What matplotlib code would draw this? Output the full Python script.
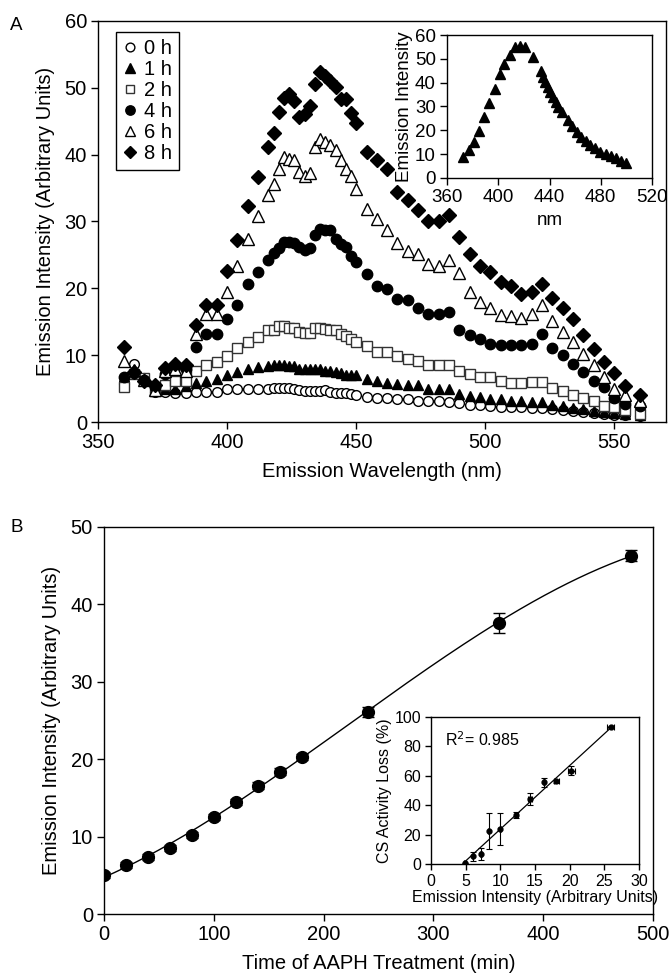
import numpy as np
import matplotlib
matplotlib.use("Agg")
import matplotlib.pyplot as plt

plt.rcParams['font.family'] = ['Liberation Sans', 'DejaVu Sans']

# ---------------- Panel A data ----------------
wavelength = ([360, 364, 368, 372, 376, 380, 384, 388, 392, 396, 400, 404, 408, 412]
              + list(range(416, 451, 2))
              + list(range(454, 555, 4)) + [560])

h0 = [6.0, 8.7, 6.6, 4.5, 4.5, 4.3, 4.3, 4.5, 4.5, 4.5, 4.9, 5.0, 5.0, 5.0,
      5.0, 5.05, 5.1, 5.15, 5.1, 5.0, 4.75, 4.65, 4.65, 4.6, 4.6, 4.75, 4.5, 4.4, 4.4, 4.4, 4.25, 4.05,
      3.8, 3.65, 3.55, 3.5, 3.4, 3.2, 3.1, 3.1, 3.0, 2.8, 2.6, 2.5, 2.4, 2.3, 2.2, 2.2, 2.1, 2.1,
      1.9, 1.8, 1.6, 1.5, 1.4, 1.2, 1.1, 1.0, 0.9]
h1 = [6.5, 7.8, 6.5, 4.7, 4.9, 4.9, 5.4, 5.9, 6.2, 6.4, 7.0, 7.5, 7.9, 8.2,
      8.4, 8.5, 8.5, 8.5, 8.4, 8.4, 8.0, 7.9, 7.9, 8.0, 7.9, 7.7, 7.7, 7.5, 7.4, 7.1, 7.1, 7.0,
      6.4, 6.1, 5.9, 5.7, 5.5, 5.5, 4.9, 4.9, 4.9, 4.2, 3.9, 3.7, 3.5, 3.4, 3.2, 3.1, 3.0, 3.0,
      2.6, 2.4, 2.1, 1.9, 1.6, 1.5, 1.4, 1.2, 1.1]
h2 = [5.2, 7.2, 6.6, 4.8, 5.6, 6.2, 6.1, 7.7, 8.5, 9.0, 9.9, 11.1, 11.9, 12.7,
      13.7, 13.7, 14.4, 14.3, 14.1, 14.1, 13.4, 13.3, 13.3, 14.0, 14.0, 13.9, 13.7, 13.7, 13.1, 12.9, 12.4, 11.9,
      11.4, 10.5, 10.5, 9.9, 9.4, 9.1, 8.6, 8.5, 8.5, 7.6, 7.2, 6.7, 6.7, 6.2, 5.9, 5.9, 6.0, 6.0,
      5.1, 4.6, 4.1, 3.6, 3.1, 2.4, 2.2, 1.8, 1.2]
h4 = [6.7, 7.4, 6.3, 5.2, 7.2, 8.2, 8.0, 11.2, 13.2, 13.1, 15.4, 17.5, 20.6, 22.4,
      24.2, 25.3, 26.1, 27.0, 26.9, 26.8, 26.2, 25.8, 26.0, 28.0, 28.9, 28.7, 28.8, 27.4, 26.7, 26.2, 24.9, 23.9,
      22.1, 20.4, 19.9, 18.4, 18.2, 17.0, 16.2, 16.2, 16.4, 13.7, 13.0, 12.4, 11.6, 11.5, 11.5, 11.5, 11.7, 13.2,
      11.0, 10.0, 8.7, 7.5, 6.2, 5.2, 3.6, 2.7, 2.4]
h6 = [9.1, 7.8, 6.3, 4.8, 7.7, 7.9, 7.6, 13.2, 16.1, 16.1, 19.5, 23.4, 27.4, 30.8,
      33.9, 35.6, 37.8, 39.7, 39.3, 39.2, 37.4, 36.8, 37.2, 41.2, 42.3, 41.9, 41.5, 40.7, 39.2, 37.8, 36.8, 34.9,
      31.9, 30.4, 28.8, 26.8, 25.6, 25.1, 23.6, 23.4, 24.2, 22.3, 19.4, 18.0, 17.0, 16.0, 15.9, 15.5, 16.1, 17.5,
      15.1, 13.5, 11.9, 10.2, 8.5, 6.7, 4.9, 4.1, 3.1]
h8 = [11.2, 7.5, 6.2, 5.6, 8.1, 8.7, 8.5, 14.5, 17.5, 17.5, 22.6, 27.3, 32.3, 36.7,
      41.2, 43.3, 46.4, 48.5, 49.1, 48.1, 45.7, 46.1, 47.3, 50.5, 52.3, 51.7, 51.0, 50.1, 48.3, 48.3, 46.2, 44.7,
      40.4, 39.2, 37.9, 34.4, 33.2, 31.7, 30.1, 30.1, 30.9, 27.7, 25.2, 23.4, 22.4, 20.9, 20.4, 19.1, 19.5, 20.6,
      18.5, 17.1, 15.4, 13.0, 10.9, 9.0, 7.3, 5.4, 4.1]
series_labels = ["0 h", "1 h", "2 h", "4 h", "6 h", "8 h"]

# inset A (probe alone)
inset_nm = [372.2, 377, 381, 384.6, 388.8, 393, 397.3, 401, 404.7, 409, 413, 417, 421, 427,
            433, 434.9, 436.7, 438.8, 440.7, 442.8, 444.9, 446.8, 449.4, 454.2, 457.4, 461.3,
            464.8, 468.5, 471.9, 475.9, 479.8, 483.8, 487.8, 491.7, 495.7, 499.7]
inset_int = [8.8, 11.6, 15.3, 19.8, 25.7, 31.4, 37.4, 43.8, 48.0, 51.8, 54.8, 55.4, 55.0, 50.8,
             44.9, 42.4, 40.3, 38.1, 36.0, 33.9, 31.8, 29.7, 27.5, 24.3, 21.9, 19.5,
             17.2, 15.5, 13.8, 12.4, 11.0, 10.2, 9.2, 8.2, 7.3, 6.4]

# ---------------- Panel B data ----------------
time_min = [0, 20, 40, 60, 80, 100, 120, 140, 160, 180, 240, 360, 480]
emission_b = [5.0, 6.3, 7.4, 8.5, 10.2, 12.5, 14.5, 16.6, 18.4, 20.3, 26.1, 37.6, 46.3]
emission_b_err = [0.4, 0.4, 0.4, 0.4, 0.4, 0.4, 0.4, 0.4, 0.4, 0.4, 0.6, 1.3, 0.7]

# inset B
cs_x = [4.9, 6.0, 7.2, 8.3, 10.0, 12.3, 14.3, 16.3, 18.1, 20.2, 25.9]
cs_y = [0.5, 5.2, 6.8, 22.7, 23.9, 33.4, 44.3, 55.7, 56.4, 63.6, 93.2]
cs_yerr = [0.5, 3.0, 4.2, 12.3, 10.7, 2.0, 3.9, 3.0, 1.0, 3.0, 1.0]
cs_xerr = [0.1, 0.1, 0.1, 0.1, 0.1, 0.2, 0.3, 0.2, 0.4, 0.5, 0.5]
r2_text = "R$^2$= 0.985"

# ---------------- Figure ----------------
W, H = 670, 980
fig = plt.figure(figsize=(W / 100, H / 100), dpi=100)

FS_MAIN = 14.5
FS_INA = 13.5
FS_INB = 11.5


def ax_px(l, t, r, b):
    return [l / W, 1 - b / H, (r - l) / W, (b - t) / H]


def style(ax, fs):
    for s in ax.spines.values():
        s.set_linewidth(1.0)
        s.set_color('black')
    ax.tick_params(direction='out', length=5, width=1, labelsize=fs,
                   top=False, right=False, pad=3)


# Panel A
axA = fig.add_axes(ax_px(98, 21, 666, 422))
style(axA, FS_MAIN)
marker_specs = [
    dict(marker='o', mfc='white', mec='black', ms=7),
    dict(marker='^', mfc='black', mec='black', ms=7.5),
    dict(marker='s', mfc='white', mec='#333333', ms=7),
    dict(marker='o', mfc='black', mec='black', ms=7.5),
    dict(marker='^', mfc='white', mec='black', ms=8),
    dict(marker='D', mfc='black', mec='black', ms=7),
]
for vals, spec, lab in zip([h0, h1, h2, h4, h6, h8], marker_specs, series_labels):
    axA.plot(wavelength, vals, linestyle='none', mew=1.0, label=lab, **spec)
axA.set_xlim(350, 570)
axA.set_ylim(0, 60)
axA.set_xticks([350, 400, 450, 500, 550])
axA.set_yticks(range(0, 61, 10))
axA.set_xlabel("Emission Wavelength (nm)", fontsize=FS_MAIN, labelpad=7)
axA.set_ylabel("Emission Intensity (Arbitrary Units)", fontsize=FS_MAIN, labelpad=7)
leg = axA.legend(loc='upper left', bbox_to_anchor=(0.031, 0.973), fontsize=FS_MAIN,
                 frameon=True, fancybox=False, edgecolor='black', framealpha=1,
                 labelspacing=0.1, handlelength=0.7, handletextpad=0.35,
                 borderpad=0.35, borderaxespad=0, markerscale=0.9)
leg.get_frame().set_linewidth(1.0)

# Inset A
axIA = fig.add_axes(ax_px(447, 35, 652, 178))
style(axIA, FS_INA)
axIA.plot(inset_nm, inset_int, linestyle='none', marker='^', mfc='black', mec='black', ms=7)
axIA.set_xlim(360, 520)
axIA.set_ylim(0, 60)
axIA.set_xticks([360, 400, 440, 480, 520])
axIA.set_yticks(range(0, 61, 10))
axIA.set_xlabel("nm", fontsize=FS_INA, labelpad=4)
axIA.set_ylabel("Emission Intensity", fontsize=FS_INA, labelpad=1)

fig.text(10 / W, 1 - 26 / H, "A", fontsize=FS_MAIN - 1, va='center', ha='left')

# Panel B
axB = fig.add_axes(ax_px(104, 527, 653, 914))
style(axB, FS_MAIN)
coef = np.polyfit(time_min, emission_b, 3)
tt = np.linspace(min(time_min), max(time_min), 300)
axB.plot(tt, np.polyval(coef, tt), color='black', lw=1.0)
axB.errorbar(time_min, emission_b, yerr=emission_b_err, fmt='o', color='black',
             ms=8.5, capsize=4.5, elinewidth=1.0, capthick=1.0)
axB.set_xlim(0, 500)
axB.set_ylim(0, 50)
axB.set_xticks(range(0, 501, 100))
axB.set_yticks(range(0, 51, 10))
axB.set_xlabel("Time of AAPH Treatment (min)", fontsize=FS_MAIN, labelpad=7)
axB.set_ylabel("Emission Intensity (Arbitrary Units)", fontsize=FS_MAIN, labelpad=7)
fig.text(10 / W, 1 - 527 / H, "B", fontsize=FS_MAIN - 1, va='center', ha='left')

# Inset B
axIB = fig.add_axes(ax_px(431, 717, 639, 864))
style(axIB, FS_INB)
lc = np.polyfit(cs_x, cs_y, 1)
xx = np.array([min(cs_x), max(cs_x)])
axIB.plot(xx, np.polyval(lc, xx), color='black', lw=0.9)
axIB.errorbar(cs_x, cs_y, yerr=cs_yerr, xerr=cs_xerr, fmt='o', color='black',
              ms=3.5, capsize=2.5, elinewidth=0.8, capthick=0.8)
axIB.set_xlim(0, 30)
axIB.set_ylim(0, 100)
axIB.set_xticks(range(0, 31, 5))
axIB.set_yticks(range(0, 101, 20))
axIB.tick_params(length=4)
axIB.set_xlabel("Emission Intensity (Arbitrary Units)", fontsize=FS_INB, labelpad=1)
axIB.set_ylabel("CS Activity Loss (%)", fontsize=FS_INB, labelpad=2)
axIB.text(2.0, 84.5, r2_text, fontsize=FS_INB, va='center', ha='left')

fig.savefig("out.png", dpi=100)
